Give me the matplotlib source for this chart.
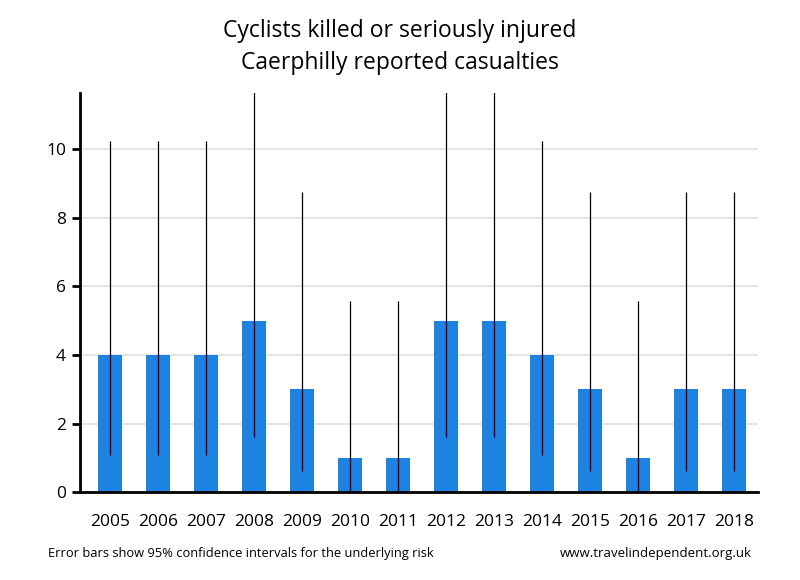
import matplotlib.pyplot as plt
import numpy as np

years = ["2005", "2006", "2007", "2008", "2009", "2010", "2011",
         "2012", "2013", "2014", "2015", "2016", "2017", "2018"]
casualties = [4, 4, 4, 5, 3, 1, 1, 5, 5, 4, 3, 1, 3, 3]
# 95% confidence limits for the underlying risk
ci_low = [1.09, 1.09, 1.09, 1.62, 0.62, 0.03, 0.03,
          1.62, 1.62, 1.09, 0.62, 0.03, 0.62, 0.62]
ci_high = [10.24, 10.24, 10.24, 11.67, 8.77, 5.57, 5.57,
           11.67, 11.67, 10.24, 8.77, 5.57, 8.77, 8.77]

plt.rcParams['font.family'] = ['Open Sans', 'DejaVu Sans']

fig = plt.figure(figsize=(8, 5.8), dpi=100)
ax = fig.add_axes([0.1, 0.1517, 0.8475, 0.688])

x = np.arange(len(years))
vals = np.array(casualties)
yerr = [vals - np.array(ci_low), np.array(ci_high) - vals]

ax.bar(x, vals, width=0.52, color="#1e82e0", zorder=2)
ax.errorbar(x, vals, yerr=yerr, fmt="none", ecolor="black",
            elinewidth=0.9, capsize=0, zorder=3)

ax.set_xlim(-0.625, 13.5)
ax.set_ylim(0, 11.65)
ax.set_yticks([0, 2, 4, 6, 8, 10])
ax.set_xticks(x)
ax.set_xticklabels(years)
ax.tick_params(axis="x", length=0, pad=16, labelsize=12.5)
ax.tick_params(axis="y", length=6, width=2, pad=4, labelsize=12.5)
ax.grid(axis="y", color="#e6e6e6", linewidth=1.5, zorder=0)
ax.set_axisbelow(True)

for side in ["top", "right"]:
    ax.spines[side].set_visible(False)
for side in ["left", "bottom"]:
    ax.spines[side].set_linewidth(2)

fig.text(0.5, 0.946, "Cyclists killed or seriously injured", ha="center",
         va="center", fontsize=16.5)
fig.text(0.5, 0.891, "Caerphilly reported casualties", ha="center",
         va="center", fontsize=16.5)
fig.text(0.06, 0.046, "Error bars show 95% confidence intervals for the underlying risk",
         ha="left", va="center", fontsize=9.3)
fig.text(0.94, 0.046, "www.travelindependent.org.uk", ha="right",
         va="center", fontsize=9.5)

fig.savefig("out.png", dpi=100)
